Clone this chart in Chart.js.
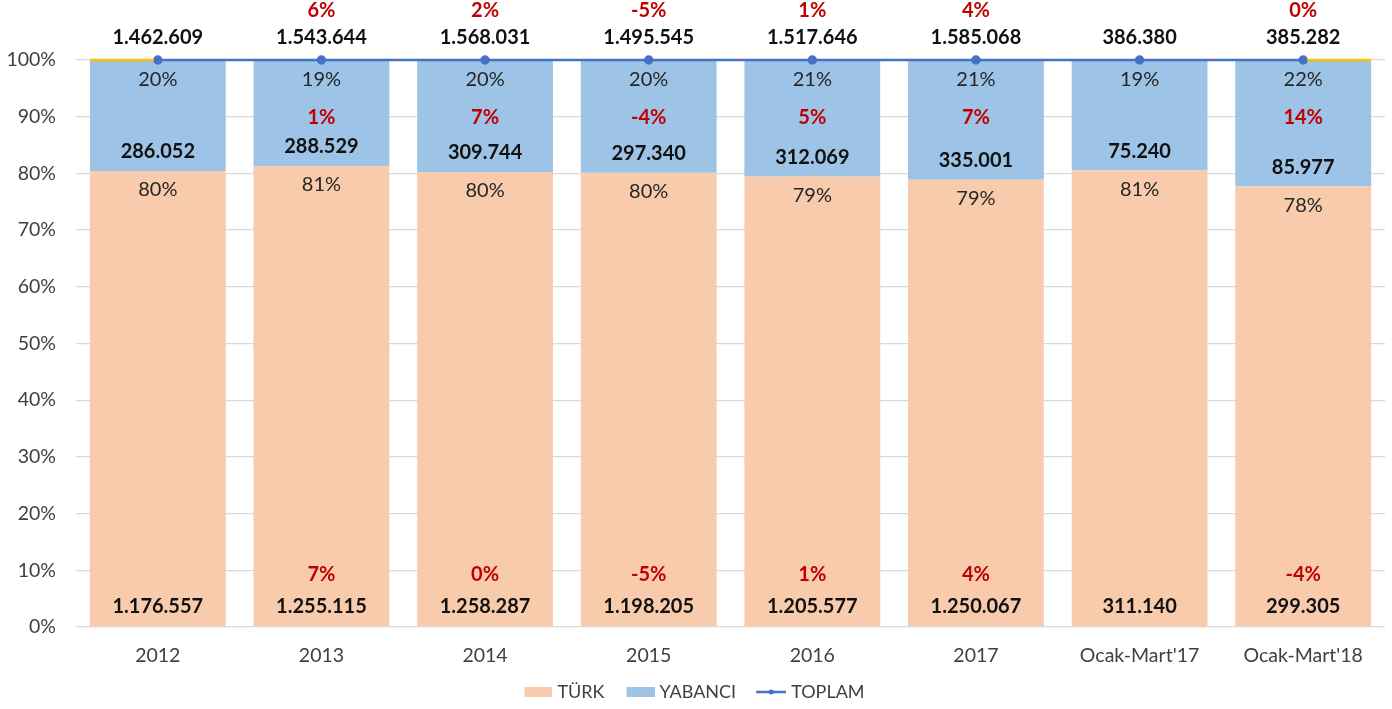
<!DOCTYPE html>
<html>
<head>
<meta charset="utf-8">
<script src="https://cdn.jsdelivr.net/npm/chart.js@4.4.1/dist/chart.umd.min.js"></script>
<style>
  html, body { margin: 0; padding: 0; background: #fff; }
  #wrap { width: 1392px; height: 709px; position: relative; }
</style>
</head>
<body>
<div id="wrap"><canvas id="mainChart"></canvas></div>
<script>
const categories = ['2012', '2013', '2014', '2015', '2016', '2017', "Ocak-Mart'17", "Ocak-Mart'18"];
const turkValues = [1176557, 1255115, 1258287, 1198205, 1205577, 1250067, 311140, 299305];
const yabanciValues = [286052, 288529, 309744, 297340, 312069, 335001, 75240, 85977];
const totalValues = [1462609, 1543644, 1568031, 1495545, 1517646, 1585068, 386380, 385282];
const turkGrowth = ['', '7%', '0%', '-5%', '1%', '4%', '', '-4%'];
const yabanciGrowth = ['', '1%', '7%', '-4%', '5%', '7%', '', '14%'];
const totalGrowth = ['', '6%', '2%', '-5%', '1%', '4%', '', '0%'];
const yTicks = [0, 10, 20, 30, 40, 50, 60, 70, 80, 90, 100];

const FONT = 'Lato, "Liberation Sans", sans-serif';
const RED = '#C00000';
const formatNum = (n) => n.toLocaleString('de-DE');

// shares for the 100% stack
const turkShare = turkValues.map((v, i) => v / totalValues[i] * 100);
const yabanciShare = yabanciValues.map((v, i) => v / totalValues[i] * 100);
const totalLine = totalValues.map(() => 100);

// legend icons, with a little empty room on the left
function legendIcon(kind, color) {
    const c = document.createElement('canvas');
    c.width = 36; c.height = 12;
    const g = c.getContext('2d');
    if (kind === 'line') {
        g.strokeStyle = color;
        g.lineWidth = 2.5;
        g.beginPath(); g.moveTo(6, 6); g.lineTo(36, 6); g.stroke();
        g.fillStyle = color;
        g.beginPath(); g.arc(21, 6, 2.5, 0, Math.PI * 2); g.fill();
    } else {
        g.fillStyle = color;
        g.fillRect(8, 1, 28, 10);
    }
    return c;
}

const labelPlugin = {
    id: 'labelPlugin',
    afterDatasetsDraw(chart) {
        const ctx = chart.ctx;
        const y = chart.scales.y;
        const area = chart.chartArea;
        const turkMeta = chart.getDatasetMeta(0);
        const lineMeta = chart.getDatasetMeta(2);

        // yellow stub at the 100% edge
        const first = turkMeta.data[0], last = turkMeta.data[turkMeta.data.length - 1];
        ctx.save();
        ctx.strokeStyle = '#FFC000';
        ctx.lineWidth = 2.5;
        ctx.beginPath();
        ctx.moveTo(first.x - first.width / 2, area.top);
        ctx.lineTo(lineMeta.data[0].x - 4, area.top);
        ctx.moveTo(lineMeta.data[lineMeta.data.length - 1].x + 4, area.top);
        ctx.lineTo(last.x + last.width / 2, area.top);
        ctx.stroke();

        ctx.textAlign = 'center';
        ctx.textBaseline = 'middle';
        categories.forEach((c, i) => {
            const x = turkMeta.data[i].x;
            const boundary = turkMeta.data[i].y;

            ctx.fillStyle = '#262626';
            ctx.font = '20px ' + FONT;
            ctx.fillText(Math.round(yabanciShare[i]) + '%', x, area.top + 20);
            ctx.fillText(Math.round(turkShare[i]) + '%', x, boundary + 19);

            ctx.fillStyle = '#111';
            ctx.font = 'bold 20px ' + FONT;
            ctx.fillText(formatNum(totalValues[i]), x, area.top - 22);
            ctx.fillText(formatNum(yabanciValues[i]), x, boundary - 19);
            ctx.fillText(formatNum(turkValues[i]), x, area.bottom - 20);

            ctx.fillStyle = RED;
            if (totalGrowth[i]) ctx.fillText(totalGrowth[i], x, area.top - 49);
            if (yabanciGrowth[i]) ctx.fillText(yabanciGrowth[i], x, y.getPixelForValue(89.9));
            if (turkGrowth[i]) ctx.fillText(turkGrowth[i], x, y.getPixelForValue(9.2));
        });
        ctx.restore();
    }
};

function initChart() {
    const ctx = document.getElementById('mainChart').getContext('2d');
    const icons = [legendIcon('rect', '#F8CBAD'), legendIcon('rect', '#9DC3E6'), legendIcon('line', '#4472C4')];

    new Chart(ctx, {
        type: 'bar',
        data: {
            labels: categories,
            datasets: [
                {
                    label: 'TÜRK',
                    data: turkShare,
                    backgroundColor: '#F8CBAD',
                    stack: 'share',
                    categoryPercentage: 1,
                    barPercentage: 0.83,
                    order: 2
                },
                {
                    label: 'YABANCI',
                    data: yabanciShare,
                    backgroundColor: '#9DC3E6',
                    stack: 'share',
                    categoryPercentage: 1,
                    barPercentage: 0.83,
                    order: 2
                },
                {
                    type: 'line',
                    label: 'TOPLAM',
                    data: totalLine,
                    borderColor: '#4472C4',
                    backgroundColor: '#4472C4',
                    borderWidth: 2.5,
                    pointRadius: 3.5,
                    pointHoverRadius: 3.5,
                    stack: 'total',
                    clip: false,
                    order: 1
                }
            ]
        },
        options: {
            responsive: true,
            maintainAspectRatio: false,
            animation: false,
            layout: { padding: { top: 60, left: 0, right: 7, bottom: -2 } },
            scales: {
                x: {
                    stacked: true,
                    grid: { display: false, drawTicks: false },
                    border: { display: false },
                    afterFit: (axis) => { axis.height = 38; },
                    ticks: { color: '#404040', font: { family: FONT, size: 19.5 }, padding: 17 }
                },
                y: {
                    stacked: true,
                    min: 0,
                    max: 100,
                    afterBuildTicks: (axis) => { axis.ticks = yTicks.map(v => ({ value: v })); },
                    afterFit: (axis) => { axis.width = 76; },
                    grid: { color: '#D9D9D9', lineWidth: 1.3, drawTicks: false },
                    border: { display: false },
                    ticks: {
                        color: '#404040',
                        font: { family: FONT, size: 19.5 },
                        padding: 20,
                        callback: (v) => v + '%'
                    }
                }
            },
            plugins: {
                tooltip: { enabled: false },
                legend: {
                    position: 'bottom',
                    labels: {
                        color: '#404040',
                        font: { family: FONT, size: 18 },
                        usePointStyle: true,
                        pointStyleWidth: 28,
                        boxHeight: 12,
                        padding: 18,
                        generateLabels: (chart) => chart.data.datasets.map((ds, i) => ({
                            text: ds.label,
                            pointStyle: icons[i],
                            fillStyle: ds.backgroundColor,
                            strokeStyle: ds.borderColor,
                            lineWidth: 0,
                            fontColor: '#404040',
                            hidden: false,
                            datasetIndex: i
                        }))
                    }
                }
            }
        },
        plugins: [labelPlugin]
    });
}

document.addEventListener('DOMContentLoaded', () => {
    initChart();
});
</script>
</body>
</html>
